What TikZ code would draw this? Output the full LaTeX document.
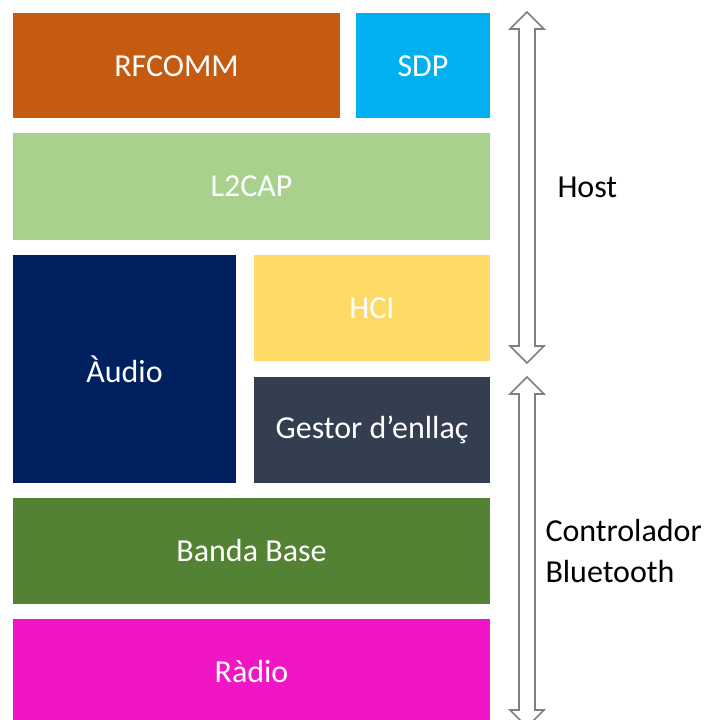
\documentclass[tikz,border=0pt]{standalone}
\usepackage{fontspec}
\setmainfont{Carlito}

\definecolor{rfcommC}{HTML}{C55A11}
\definecolor{sdpC}{HTML}{00B0F0}
\definecolor{ltwocapC}{HTML}{A9D18E}
\definecolor{audioC}{HTML}{002060}
\definecolor{hciC}{HTML}{FFD966}
\definecolor{gestorC}{HTML}{333F50}
\definecolor{bandaC}{HTML}{548235}
\definecolor{radioC}{HTML}{F016C6}
\definecolor{arrowC}{HTML}{7F7F7F}

\tikzset{
  every picture/.style={line width=0.75pt},
  layertxt/.style={text=white,font=\fontsize{24}{29}\selectfont,inner sep=0.75pt},
  sidetxt/.style={text=black,font=\fontsize{24}{30.5}\selectfont,inner sep=0.75pt,anchor=west,align=left},
  blockarrow/.style={draw=arrowC,fill=white,line width=1.2pt,line join=miter}
}

\begin{document}
\begin{tikzpicture}[x=0.75pt,y=0.75pt,yscale=-1,xscale=1]
\useasboundingbox (0,0) rectangle (708,720);

%Layers
\fill [rfcommC]  (13,13) rectangle (340,118) ;
\fill [sdpC]     (356,13) rectangle (490,118) ;
\fill [ltwocapC] (13,133) rectangle (490,240) ;
\fill [audioC]   (13,255) rectangle (236,483) ;
\fill [hciC]     (254,255) rectangle (490,361) ;
\fill [gestorC]  (254,377) rectangle (490,483) ;
\fill [bandaC]   (13,498) rectangle (490,604) ;
\fill [radioC]   (13,619) rectangle (490,726) ;

% Text Node
\node [layertxt] (rfcomm) at (176.5,66) {RFCOMM};
\node [layertxt] (sdp) at (423,66) {SDP};
\node [layertxt] (ltwocap) at (251.5,186.5) {L2CAP};
\node [layertxt] (audio) at (124.5,369) {Àudio};
\node [layertxt] (hci) at (372,308) {HCI};
\node [layertxt] (gestor) at (372,430) {Gestor d’enllaç};
\node [layertxt] (banda) at (251.5,551) {Banda Base};
\node [layertxt] (radio) at (251.5,671) {Ràdio};

%Host arrow
\draw [blockarrow] (527,12) -- (544,29) -- (535,29) -- (535,346) -- (544,346) -- (527,363)
  -- (510,346) -- (519,346) -- (519,29) -- (510,29) -- cycle ;
%Controller arrow
\draw [blockarrow] (527,377) -- (544,394) -- (535,394) -- (535,710) -- (544,710) -- (527,727)
  -- (510,710) -- (519,710) -- (519,394) -- (510,394) -- cycle ;

% Text Node
\node [sidetxt] (host) at (556,187) {Host};
\node [sidetxt] (ctrl) at (544,551) {Controlador\\Bluetooth};

\end{tikzpicture}
\end{document}
